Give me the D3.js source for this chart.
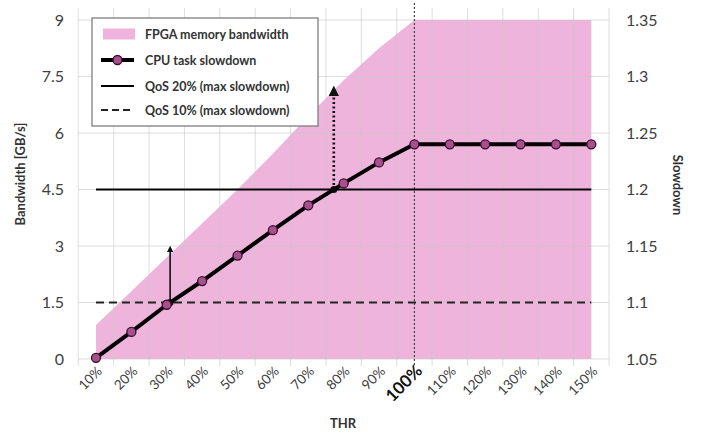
<!DOCTYPE html>
<html><head><meta charset="utf-8">
<script src="https://cdn.jsdelivr.net/npm/d3@7"></script>
<style>html,body{margin:0;padding:0;background:#fff;}svg{display:block;}text{font-family:Lato,"Open Sans",sans-serif;}</style>
</head><body><svg id="c" width="703" height="434"></svg>
<script>
const categories = ["10%","20%","30%","40%","50%","60%","70%","80%","90%","100%","110%","120%","130%","140%","150%"];
const bandwidth = [0.9,1.8,2.7,3.6,4.5,5.45,6.45,7.4,8.25,9,9,9,9,9,9];
const slowdown = [1.051,1.074,1.098,1.119,1.1415,1.164,1.186,1.2054,1.224,1.24,1.24,1.24,1.24,1.24,1.24];
const leftTicks = [0,1.5,3,4.5,6,7.5,9];
const rightTicks = [1.05,1.1,1.15,1.2,1.25,1.3,1.35];
const qosLevels = [1.2,1.1];
const qosLabels = ["QoS 20% (max slowdown)","QoS 10% (max slowdown)"];
const qosDash = [null,"8,5"];
const arrowTips = [7.2,3.0];
const arrowDash = ["2,2.5",null];
const legendLabels = ["FPGA memory bandwidth","CPU task slowdown"];

const svg = d3.select("#c");
const x = d3.scaleBand().domain(categories).range([78.3,609]).padding(0);
const cx = c => x(c) + x.bandwidth()/2;
const yL = d3.scaleLinear().domain([0,9]).range([359,20]);
const yR = d3.scaleLinear().domain([1.05,1.35]).range([359,20]);

// pink area
const area = d3.area().x((d,i)=>cx(categories[i])).y0(yL(0)).y1(d=>yL(d));
svg.append("path").attr("d",area(bandwidth)).attr("fill","#eeb4dc");

// grid
const g = svg.append("g").attr("stroke","#c8c8c8").attr("stroke-opacity",0.6).attr("stroke-width",1);
leftTicks.forEach(t=>g.append("line").attr("x1",78).attr("x2",609).attr("y1",yL(t)).attr("y2",yL(t)));
categories.concat(["end"]).forEach((c,i)=>{
  const xx = 78.3 + i*x.bandwidth();
  g.append("line").attr("x1",xx).attr("x2",xx).attr("y1",8).attr("y2",366);
});

// 100% vertical dotted
svg.append("line").attr("x1",cx("100%")).attr("x2",cx("100%")).attr("y1",3).attr("y2",366)
  .attr("stroke","#444").attr("stroke-width",1.2).attr("stroke-dasharray","2,2");

// QoS lines
qosLevels.forEach((q,i)=>{
  svg.append("line").attr("x1",cx(categories[0])).attr("x2",cx(categories[categories.length-1]))
    .attr("y1",yR(q)).attr("y2",yR(q)).attr("stroke", i==0?"#000":"#222").attr("stroke-width",2.2)
    .attr("stroke-dasharray",qosDash[i]);
});

// arrows
const defs = svg.append("defs");
defs.append("marker").attr("id","ah").attr("viewBox","0 0 10 10").attr("refX",5).attr("refY",5)
  .attr("markerWidth",4).attr("markerHeight",4).attr("orient","auto")
  .append("path").attr("d","M0,0 L10,5 L0,10 z").attr("fill","#111");
qosLevels.forEach((q,i)=>{
  let k=0; while(k<slowdown.length-1 && !(slowdown[k]<=q && slowdown[k+1]>=q)) k++;
  const f = (q-slowdown[k])/(slowdown[k+1]-slowdown[k]);
  const xx = cx(categories[k]) + f*(cx(categories[k+1])-cx(categories[k]));
  svg.append("line").attr("x1",xx).attr("x2",xx).attr("y1",yR(q)).attr("y2",yL(arrowTips[i])+3)
    .attr("stroke","#111").attr("stroke-width",i==0?2.6:1.6).attr("stroke-dasharray",arrowDash[i])
    .attr("marker-end","url(#ah)");
  svg.append("circle").attr("cx",xx).attr("cy",yR(q)).attr("r",3.5).attr("fill","#111");
});

// CPU slowdown line
const line = d3.line().x((d,i)=>cx(categories[i])).y(d=>yR(d));
svg.append("path").attr("d",line(slowdown)).attr("fill","none").attr("stroke","#000").attr("stroke-width",4);
svg.selectAll("circle.m").data(slowdown).join("circle").attr("class","m")
  .attr("cx",(d,i)=>cx(categories[i])).attr("cy",d=>yR(d)).attr("r",4.5)
  .attr("fill","#a8508c").attr("stroke","#3a0f2e").attr("stroke-width",1.3);

// axes labels
const axL = svg.append("g").attr("transform","translate(64,0)")
  .call(d3.axisLeft(yL).tickValues(leftTicks).tickSize(0).tickPadding(0).tickFormat(d=>d));
axL.select(".domain").remove();
axL.selectAll("text").attr("font-size",16).attr("fill","#404040").attr("font-family","Lato,sans-serif");
const axR = svg.append("g").attr("transform","translate(626,0)")
  .call(d3.axisRight(yR).tickValues(rightTicks).tickSize(0).tickPadding(0).tickFormat(d=>d));
axR.select(".domain").remove();
axR.selectAll("text").attr("font-size",16).attr("fill","#404040").attr("font-family","Lato,sans-serif");

const axB = svg.append("g");
categories.forEach(c=>{
  const big = c==="100%";
  axB.append("text").attr("transform",`translate(${cx(c)+(big?9:7)},${372}) rotate(-45)`)
    .attr("text-anchor","end").attr("font-size",big?17:13.5).attr("font-weight",big?"bold":"normal")
    .attr("fill",big?"#111":"#404040").text(c);
});

svg.append("text").attr("x",343).attr("y",428).attr("text-anchor","middle").attr("font-size",13)
  .attr("font-weight","bold").attr("fill","#333").text("THR");
svg.append("text").attr("transform","translate(25,174) rotate(-90)").attr("text-anchor","middle")
  .attr("font-size",13).attr("font-weight","bold").attr("fill","#333").text("Bandwidth [GB/s]");
svg.append("text").attr("transform","translate(673,185) rotate(90)").attr("text-anchor","middle")
  .attr("font-size",13).attr("font-weight","bold").attr("fill","#333").text("Slowdown");

// legend
const lg = svg.append("g");
lg.append("rect").attr("x",92).attr("y",18).attr("width",226).attr("height",108)
  .attr("fill","#fff").attr("stroke","#7f7f7f").attr("stroke-width",1.3);
const rows = [34,60,86,110];
lg.append("rect").attr("x",103).attr("y",rows[0]-5.5).attr("width",32).attr("height",11).attr("fill","#eeb4dc");
lg.append("line").attr("x1",101).attr("x2",134).attr("y1",rows[1]).attr("y2",rows[1]).attr("stroke","#000").attr("stroke-width",4);
lg.append("circle").attr("cx",117.5).attr("cy",rows[1]).attr("r",4.5).attr("fill","#a8508c").attr("stroke","#3a0f2e").attr("stroke-width",1.3);
lg.append("line").attr("x1",101).attr("x2",134).attr("y1",rows[2]).attr("y2",rows[2]).attr("stroke","#000").attr("stroke-width",2.2);
lg.append("line").attr("x1",101).attr("x2",134).attr("y1",rows[3]).attr("y2",rows[3]).attr("stroke","#222").attr("stroke-width",2.2).attr("stroke-dasharray","7,4");
const labs = legendLabels.concat(qosLabels);
labs.forEach((t,i)=>lg.append("text").attr("x",145).attr("y",rows[i]+4.5).attr("font-size",12.5)
  .attr("font-weight","bold").attr("fill","#333").text(t));
</script></body></html>
